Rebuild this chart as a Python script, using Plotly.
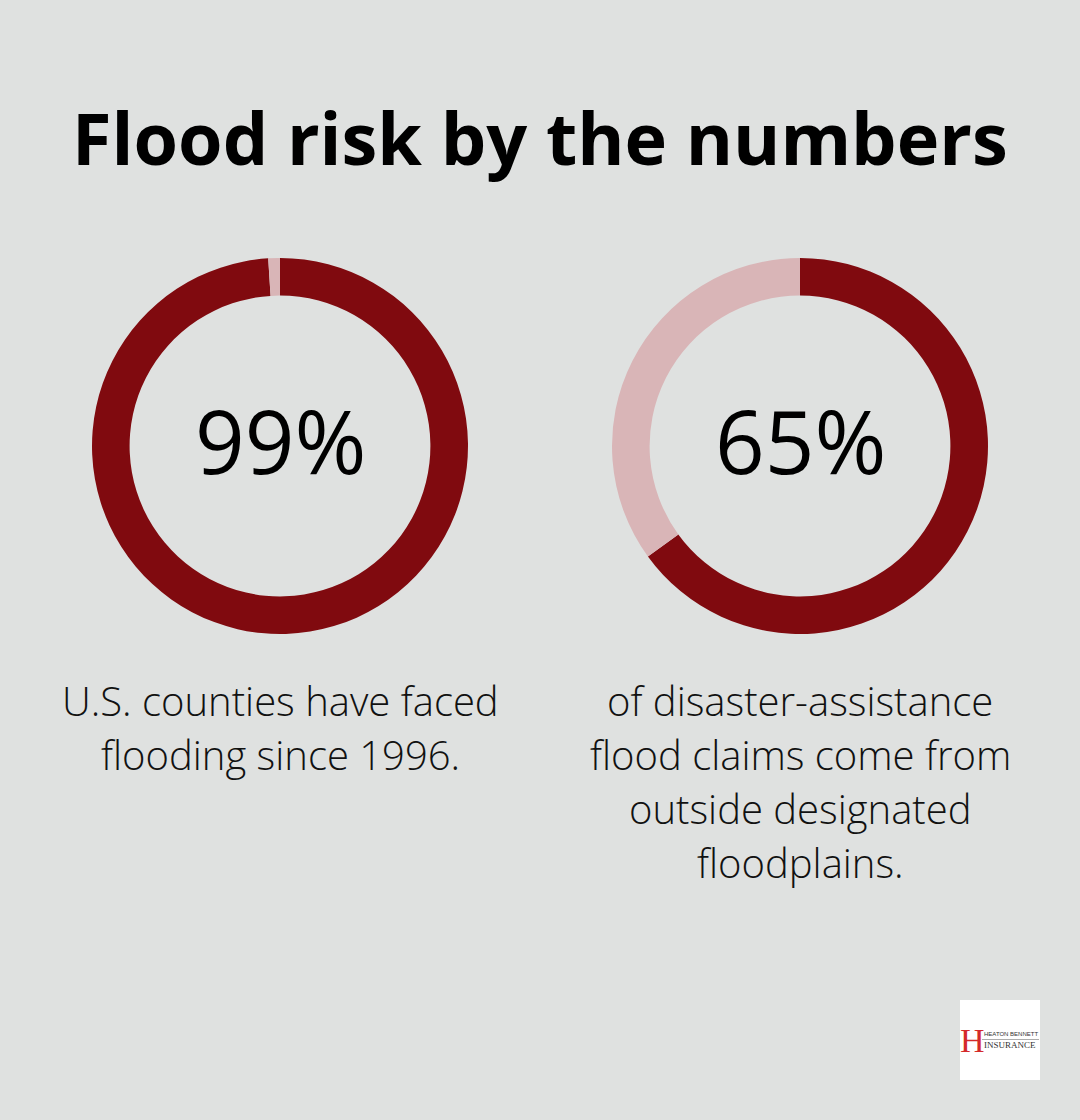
import plotly.graph_objects as go

W, H = 1080, 1120
BG = "#dfe1e0"
DARK = "#800a0f"
LIGHT = "#d9b5b7"

title = "Flood risk by the numbers"
stats = [99, 65]
stat_labels = ["99%", "65%"]
captions = [
    ["U.S. counties have faced", "flooding since 1996."],
    ["of disaster-assistance", "flood claims come from", "outside designated", "floodplains."],
]
centers_x = [280, 800]
center_y = 446
R = 188

fig = go.Figure()
for i, v in enumerate(stats):
    cx = centers_x[i]
    fig.add_trace(go.Pie(
        values=[v, 100 - v],
        labels=["yes", "no"],
        hole=0.8,
        sort=False,
        direction="clockwise",
        rotation=0,
        marker=dict(colors=[DARK, LIGHT], line=dict(width=0)),
        textinfo="none",
        hoverinfo="skip",
        showlegend=False,
        domain=dict(x=[(cx - R) / W, (cx + R) / W],
                    y=[(H - center_y - R) / H, (H - center_y + R) / H]),
    ))

ann = []
ann.append(dict(text=f"<b>{title}</b>", x=540 / W, y=1 - 137 / H, xref="paper", yref="paper",
                showarrow=False, xanchor="center", yanchor="middle",
                font=dict(family="Open Sans", size=72, color="#000000")))
for i, lab in enumerate(stat_labels):
    ann.append(dict(text=lab, x=centers_x[i] / W, y=1 - 440 / H, xref="paper", yref="paper",
                    showarrow=False, xanchor="center", yanchor="middle",
                    font=dict(family="Open Sans", size=87, color="#000000")))
for i, lines in enumerate(captions):
    for j, line in enumerate(lines):
        ann.append(dict(text=line, x=centers_x[i] / W, y=1 - (700 + 54 * j) / H,
                        xref="paper", yref="paper", showarrow=False,
                        xanchor="center", yanchor="middle",
                        font=dict(family="Open Sans", size=40, color="#111111", weight=300)))

# logo
ann.append(dict(text="H", x=972 / W, y=1 - 1040 / H, xref="paper", yref="paper", showarrow=False,
                xanchor="center", yanchor="middle",
                font=dict(family="Liberation Serif", size=34, color="#d42a2a")))
ann.append(dict(text="HEATON BENNETT", x=1011 / W, y=1 - 1034 / H, xref="paper", yref="paper",
                showarrow=False, xanchor="center", yanchor="middle",
                font=dict(family="Liberation Sans", size=6, color="#333333")))
ann.append(dict(text="INSURANCE", x=1010 / W, y=1 - 1045 / H, xref="paper", yref="paper",
                showarrow=False, xanchor="center", yanchor="middle",
                font=dict(family="Liberation Serif", size=9, color="#333333")))

shapes = [
    dict(type="rect", xref="paper", yref="paper", x0=960 / W, x1=1040 / W,
         y0=1 - 1080 / H, y1=1 - 1000 / H, fillcolor="#ffffff", line=dict(width=0), layer="below"),
    dict(type="line", xref="paper", yref="paper", x0=982 / W, x1=1039 / W,
         y0=1 - 1039.5 / H, y1=1 - 1039.5 / H, line=dict(color="#888888", width=0.7)),
]

fig.update_layout(
    width=W, height=H,
    margin=dict(l=0, r=0, t=0, b=0),
    paper_bgcolor=BG, plot_bgcolor=BG,
    annotations=ann, shapes=shapes,
    font=dict(family="Open Sans"),
)
fig.write_html("out.html")
